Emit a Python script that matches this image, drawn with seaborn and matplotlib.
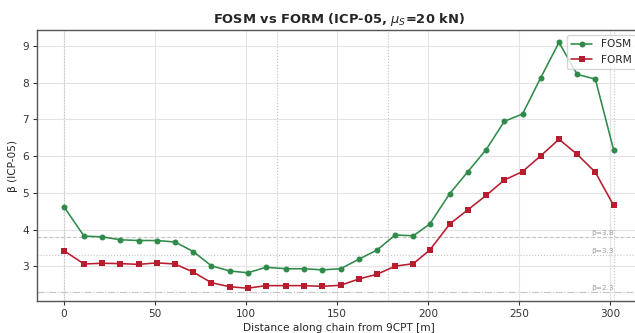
import numpy as np
import pandas as pd
import matplotlib
matplotlib.use("Agg")
import matplotlib.pyplot as plt
import seaborn as sns

distance = [0, 11, 21, 31, 41, 51, 61, 71, 81, 91, 101, 111, 122, 132, 142, 152,
            162, 172, 182, 192, 201, 212, 222, 232, 242, 252, 262, 272, 282, 292, 302]
fosm = [4.62, 3.82, 3.80, 3.72, 3.70, 3.70, 3.66, 3.40, 3.01, 2.87, 2.82, 2.97, 2.93, 2.93, 2.90, 2.93,
        3.19, 3.44, 3.85, 3.83, 4.15, 4.98, 5.58, 6.18, 6.95, 7.15, 8.14, 9.10, 8.23, 8.10, 6.18]
form = [3.42, 3.06, 3.08, 3.07, 3.05, 3.09, 3.06, 2.84, 2.55, 2.44, 2.40, 2.47, 2.47, 2.47, 2.45, 2.48,
        2.65, 2.78, 3.00, 3.07, 3.44, 4.15, 4.54, 4.93, 5.35, 5.58, 6.01, 6.46, 6.05, 5.56, 4.66]
cpt_positions = [0, 117, 178, 302]
targets = [3.8, 3.3, 2.3]
target_labels = ["β=3.8", "β=3.3", "β=2.3"]
target_styles = ["--", ":", "-."]

sns.set_theme(style="whitegrid")
plt.rcParams.update({
    "font.family": ["DejaVu Sans"],
    "axes.edgecolor": "#555555",
    "axes.linewidth": 1.0,
    "grid.color": "#e3e3e3",
    "grid.linewidth": 0.8,
    "xtick.bottom": True,
    "ytick.left": True,
    "xtick.major.size": 2.7,
    "ytick.major.size": 2.7,
    "xtick.major.width": 0.8,
    "ytick.major.width": 0.8,
    "xtick.major.pad": 2.7,
    "ytick.major.pad": 2.7,
    "xtick.color": "#333333",
    "ytick.color": "#333333",
    "xtick.labelsize": 7.6,
    "ytick.labelsize": 7.6,
})

fig = plt.figure(figsize=(6.35, 3.33), dpi=100)
ax = fig.add_axes([0.0575, 0.096, 0.952, 0.814])

df = pd.DataFrame({"d": distance, "FOSM": fosm, "FORM": form})

for xv in cpt_positions:
    ax.axvline(xv, color="#c4c4c4", linestyle=":", linewidth=0.8, zorder=1)

for yv, lab, ls in zip(targets, target_labels, target_styles):
    ax.axhline(yv, color="#c4c4c4", linestyle=ls, linewidth=0.8, zorder=1)
    ax.text(302, yv + 0.02, lab, color="#a0a0a0", fontsize=5.3, ha="right", va="bottom")

sns.lineplot(data=df, x="d", y="FOSM", ax=ax, color="#2e8b4a", marker="o",
             markersize=4.3, markeredgewidth=0, linewidth=1.15, label="FOSM", zorder=3)
sns.lineplot(data=df, x="d", y="FORM", ax=ax, color="#b81c2e", marker="s",
             markersize=4.5, markeredgewidth=0, linewidth=1.15, label="FORM", zorder=3)

ax.set_xlim(-15.1, 317.1)
ax.set_ylim(2.05, 9.44)
ax.set_xticks([0, 50, 100, 150, 200, 250, 300])
ax.set_yticks([3, 4, 5, 6, 7, 8, 9])
ax.set_xlabel("Distance along chain from 9CPT [m]", fontsize=7.6, labelpad=3)
ax.set_ylabel("β (ICP-05)", fontsize=7.6, labelpad=3)
ax.set_title("FOSM vs FORM (ICP-05, $\\mu_S$=20 kN)", fontsize=9.4, fontweight="bold", pad=5)
ax.legend(loc="upper right", fontsize=7.6, frameon=True, borderpad=0.4, handlelength=2.0)

fig.savefig("out.png", dpi=100)
